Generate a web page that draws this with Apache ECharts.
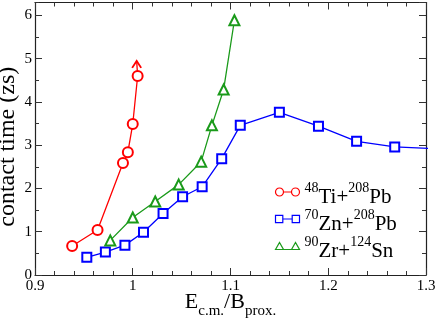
<!DOCTYPE html>
<html>
<head>
<meta charset="utf-8">
<script src="https://cdn.jsdelivr.net/npm/echarts@6/dist/echarts.min.js"></script>
<style>
  html, body { margin: 0; padding: 0; background: #fff; }
  #main { width: 436px; height: 322px; }
</style>
</head>
<body>
<div id="main"></div>
<script>
// values: E_cm/B_prox vs contact time (zs)
const tiX = [0.938, 0.964, 0.990, 0.995, 1.000, 1.005];
const tiY = [0.67, 1.04, 2.59, 2.84, 3.49, 4.60];
const tiArrow = [1.004, 4.95];

const znX = [0.953, 0.972, 0.992, 1.011, 1.031, 1.051, 1.071, 1.091, 1.110, 1.150, 1.190, 1.229, 1.268, 1.310];
const znY = [0.41, 0.53, 0.69, 0.99, 1.42, 1.81, 2.04, 2.69, 3.46, 3.76, 3.44, 3.09, 2.96, 2.92];

const zrX = [0.977, 1.000, 1.023, 1.047, 1.070, 1.081, 1.093, 1.104];
const zrY = [0.80, 1.33, 1.70, 2.09, 2.62, 3.46, 4.29, 5.89];

// legend labels: [A1, element1, A2, element2]
const reactions = [
  ['48', 'Ti', '208', 'Pb'],
  ['70', 'Zn', '208', 'Pb'],
  ['90', 'Zr', '124', 'Sn']
];
const colors = ['#ff0000', '#0000ff', '#1a9a1a'];

const serif = 'Liberation Serif';

function pairs(xs, ys) {
  return xs.map((x, i) => [x, ys[i]]);
}

const names = reactions.map(r => r.join('|'));

const tiData = pairs(tiX, tiY);
tiData.push({
  value: tiArrow,
  symbol: 'path://M0,7L4.5,0L9,7',
  symbolSize: [9, 7],
  symbolOffset: [0, '50%'],
  itemStyle: { color: 'none', borderColor: colors[0], borderWidth: 1.6 }
});

const legendIcons = [
  'path://M0,4a4,4 0 1,0 8,0a4,4 0 1,0 -8,0M8,4L16,4M16,4a4,4 0 1,0 8,0a4,4 0 1,0 -8,0',
  'path://M0.5,0.5h7v7h-7zM7.5,4L16.5,4M16.5,0.5h7v7h-7z',
  'path://M0,7L4,0L8,7ZM8,7L16,7M16,7L20,0L24,7Z'
];

function lineSeries(i, data, symbol, size) {
  return {
    name: names[i],
    type: 'line',
    data: data,
    symbol: symbol,
    symbolSize: size,
    showAllSymbol: true,
    clip: true,
    lineStyle: { color: colors[i], width: 1.3 },
    itemStyle: { color: colors[i], borderColor: colors[i], borderWidth: 1.2 },
    emphasis: { disabled: true },
    animation: false
  };
}

const tickStyle = { color: '#333', width: 1 };

const chart = echarts.init(document.getElementById('main'));
chart.setOption({
  backgroundColor: '#fff',
  animation: false,
  grid: { left: 35, right: 10, top: 2.5, bottom: 47, containLabel: false, outerBoundsMode: 'none' },
  legend: {
    orient: 'vertical',
    left: 273,
    top: 176,
    padding: 0,
    itemGap: -5,
    itemWidth: 24,
    itemHeight: 8,
    selectedMode: false,
    data: names.map((n, i) => ({
      name: n,
      icon: legendIcons[i],
      itemStyle: { color: 'none', borderColor: colors[i], borderWidth: 1.2 }
    })),
    formatter: n => {
      const r = n.split('|');
      return '{sup|' + r[0] + '}{main|' + r[1] + '+}{sup|' + r[2] + '}{main|' + r[3] + '}';
    },
    textStyle: {
      fontFamily: serif,
      color: '#000',
      rich: {
        main: { fontFamily: serif, fontSize: 21, lineHeight: 32, color: '#000', verticalAlign: 'bottom' },
        sup: { fontFamily: serif, fontSize: 14, lineHeight: 14, color: '#000', verticalAlign: 'top', padding: [5, 0, 0, 0] }
      }
    }
  },
  xAxis: [
    {
      type: 'value', position: 'bottom', min: 0.9, max: 1.3, interval: 0.1,
      axisLine: { show: true, onZero: false, lineStyle: { color: '#222', width: 1.2 } },
      axisTick: { show: true, inside: true, length: 7, lineStyle: tickStyle },
      minorTick: { show: true, splitNumber: 5, length: 4, lineStyle: tickStyle },
      splitLine: { show: false },
      axisLabel: { fontFamily: serif, fontSize: 15, color: '#000', margin: 4 },
      name: '{e|E}{sub|c.m.}{e|/B}{sub|prox.}',
      nameLocation: 'middle',
      nameGap: 16,
      nameMoveOverlap: false,
      nameTextStyle: {
        fontFamily: serif,
        rich: {
          e: { fontFamily: serif, fontSize: 22, lineHeight: 22, color: '#000', verticalAlign: 'top' },
          sub: { fontFamily: serif, fontSize: 15, lineHeight: 28, color: '#000', verticalAlign: 'bottom' }
        }
      }
    },
    {
      type: 'value', position: 'top', min: 0.9, max: 1.3, interval: 0.1,
      axisLine: { show: true, onZero: false, lineStyle: { color: '#222', width: 1.2 } },
      axisTick: { show: true, inside: true, length: 7, lineStyle: tickStyle },
      minorTick: { show: true, splitNumber: 5, length: 4, lineStyle: tickStyle },
      splitLine: { show: false },
      axisLabel: { show: false }
    }
  ],
  yAxis: [
    {
      type: 'value', position: 'left', min: 0, max: 6.3, interval: 1,
      axisLine: { show: true, onZero: false, lineStyle: { color: '#222', width: 1.2 } },
      axisTick: { show: true, inside: true, length: 7, lineStyle: tickStyle },
      splitLine: { show: false },
      axisLabel: { fontFamily: serif, fontSize: 15, color: '#000', margin: 3, showMaxLabel: false },
      name: 'contact time (zs)',
      nameLocation: 'middle',
      nameGap: 15,
      nameMoveOverlap: false,
      nameTextStyle: { fontFamily: serif, fontSize: 24, color: '#000', padding: [0, 16, 0, 0] }
    },
    {
      type: 'value', position: 'left', offset: 0, min: 0, max: 6.3, interval: 0.5,
      axisLine: { show: false },
      axisTick: { show: true, inside: true, length: 4, lineStyle: tickStyle },
      splitLine: { show: false },
      axisLabel: { show: false }
    },
    {
      type: 'value', position: 'right', min: 0, max: 6.3, interval: 1,
      axisLine: { show: true, onZero: false, lineStyle: { color: '#222', width: 1.2 } },
      axisTick: { show: true, inside: true, length: 7, lineStyle: tickStyle },
      splitLine: { show: false },
      axisLabel: { show: false }
    },
    {
      type: 'value', position: 'right', offset: 0, min: 0, max: 6.3, interval: 0.5,
      axisLine: { show: false },
      axisTick: { show: true, inside: true, length: 4, lineStyle: tickStyle },
      splitLine: { show: false },
      axisLabel: { show: false }
    }
  ],
  series: [
    lineSeries(1, pairs(znX, znY), 'emptyRect', 9),
    lineSeries(2, pairs(zrX, zrY), 'emptyTriangle', 10),
    lineSeries(0, tiData, 'emptyCircle', 10)
  ]
});
</script>
</body>
</html>
